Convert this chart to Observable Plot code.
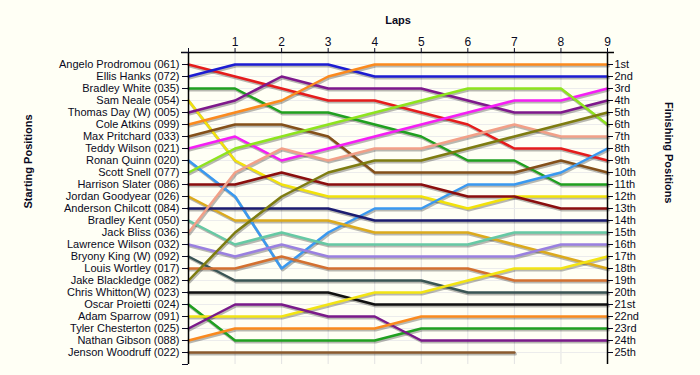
<!DOCTYPE html>
<html><head><meta charset="utf-8">
<script src="https://cdn.jsdelivr.net/npm/d3@7"></script>
<script src="https://cdn.jsdelivr.net/npm/@observablehq/plot@0.6"></script>
<style>
html,body{margin:0;padding:0;background:#fffff5;}
</style></head><body><div id="chart"></div>
<script>
const laps = [0, 1, 2, 3, 4, 5, 6, 7, 8, 9];
const drivers = [
  "Angelo Prodromou (061)", "Ellis Hanks (072)", "Bradley White (035)", "Sam Neale (054)",
  "Thomas Day (W) (005)", "Cole Atkins (099)", "Max Pritchard (033)", "Teddy Wilson (021)",
  "Ronan Quinn (020)", "Scott Snell (077)", "Harrison Slater (086)", "Jordan Goodyear (026)",
  "Anderson Chilcott (084)", "Bradley Kent (050)", "Jack Bliss (036)", "Lawrence Wilson (032)",
  "Bryony King (W) (092)", "Louis Wortley (017)", "Jake Blackledge (082)", "Chris Whitton(W) (023)",
  "Oscar Proietti (024)", "Adam Sparrow (091)", "Tyler Chesterton (025)", "Nathan Gibson (088)",
  "Jenson Woodruff (022)"
];
const colors = [
  "#e51c1c", "#1c1cd2", "#20a020", "#f2e20a", "#7e188c", "#fb8a1e", "#84501a", "#f51ef5",
  "#3a99f0", "#8ee41e", "#8b0e0e", "#dcaa1c", "#1c1c70", "#66c9a4", "#f2a088", "#9a80e0",
  "#3a5555", "#d37030", "#7e7c10", "#111111", "#20a020", "#f2e414", "#7a1a8a", "#fa8a1e",
  "#8a5a2e"
];
const finishLabels = [
  "1st", "2nd", "3rd", "4th", "5th", "6th", "7th", "8th", "9th", "10th", "11th", "12th", "13th",
  "14th", "15th", "16th", "17th", "18th", "19th", "20th", "21st", "22nd", "23rd", "24th", "25th"
];

// positions per lap (lap 0 .. lap 9)
const angelo    = [1, 2, 3, 4, 4, 5, 6, 8, 8, 9];
const ellis     = [2, 1, 1, 1, 2, 2, 2, 2, 2, 2];
const bradleyW  = [3, 3, 5, 5, 6, 7, 9, 9, 11, 11];
const sam       = [4, 9, 11, 12, 12, 12, 13, 12, 12, 12];
const thomas    = [5, 4, 2, 3, 3, 3, 4, 5, 5, 4];
const cole      = [6, 5, 4, 2, 1, 1, 1, 1, 1, 1];
const max       = [7, 6, 6, 7, 10, 10, 10, 10, 9, 10];
const teddy     = [8, 7, 9, 8, 7, 6, 5, 4, 4, 3];
const ronan     = [9, 12, 18, 15, 13, 13, 11, 11, 10, 8];
const scott     = [10, 8, 7, 6, 5, 4, 3, 3, 3, 6];
const harrison  = [11, 11, 10, 11, 11, 11, 12, 12, 13, 13];
const jordan    = [12, 14, 14, 14, 15, 15, 15, 16, 17, 18];
const anderson  = [13, 13, 13, 13, 14, 14, 14, 14, 14, 14];
const bradleyK  = [14, 16, 15, 16, 16, 16, 16, 15, 15, 15];
const jack      = [15, 10, 8, 9, 8, 8, 7, 6, 7, 7];
const lawrence  = [16, 17, 16, 17, 17, 17, 17, 17, 16, 16];
const bryony    = [17, 19, 19, 19, 19, 19, 20, 20, 20, 20];
const louis     = [18, 18, 17, 18, 18, 18, 18, 19, 19, 19];
const jake      = [19, 15, 12, 10, 9, 9, 8, 7, 6, 5];
const chris     = [20, 20, 20, 20, 21, 21, 21, 21, 21, 21];
const oscar     = [21, 24, 24, 24, 24, 23, 23, 23, 23, 23];
const adam      = [22, 22, 22, 21, 20, 20, 19, 18, 18, 17];
const tyler     = [23, 21, 21, 22, 22, 24, 24, 24, 24, 24];
const nathan    = [24, 23, 23, 23, 23, 22, 22, 22, 22, 22];
const jenson    = [25, 25, 25, 25, 25, 25, 25, 25];

const series = [angelo, ellis, bradleyW, sam, thomas, cole, max, teddy, ronan, scott, harrison,
  jordan, anderson, bradleyK, jack, lawrence, bryony, louis, jake, chris, oscar, adam, tyler,
  nathan, jenson];

const rows = [];
series.forEach((s, i) => s.forEach((p, j) => rows.push({driver: drivers[i], lap: laps[j], pos: p})));

const positions = d3.range(1, drivers.length + 1);
const yTicks = d3.range(0, drivers.length + 2);

const chart = Plot.plot({
  width: 700, height: 375,
  marginLeft: 188, marginRight: 93, marginTop: 52, marginBottom: 11,
  style: {background: "#fffff5", fontFamily: "'Liberation Sans', Arial, sans-serif", fontSize: "11px", color: "#0a0a22", overflow: "visible"},
  x: {domain: [0, 9], axis: null},
  y: {domain: [0, drivers.length + 1], reverse: true, axis: null},
  color: {domain: drivers, range: colors},
  marks: [
    Plot.gridX(laps.slice(1, -1), {stroke: "#e2e2e2", strokeOpacity: 1}),
    Plot.gridY(positions, {stroke: "#ececec", strokeOpacity: 1}),
    Plot.line(rows, {x: "lap", y: "pos", z: "driver", stroke: "#000", strokeOpacity: 0.28, strokeWidth: 3, dx: 1, dy: 1.5}),
    Plot.line(rows, {x: "lap", y: "pos", z: "driver", stroke: "driver", strokeWidth: 2.5}),
    Plot.ruleX([0, 9], {y1: 0, y2: drivers.length + 1, stroke: "#000", strokeWidth: 1.5}),
    Plot.ruleY([0], {x1: -0.15, x2: 9.15, stroke: "#000", strokeWidth: 1.5}),
    Plot.axisX(laps, {anchor: "top", tickSize: 5, tickPadding: 2, tickFormat: d => d === 0 ? "" : d, label: null, fontSize: 12}),
    Plot.axisY(yTicks, {anchor: "left", tickSize: 6, tickPadding: 3, tickFormat: d => drivers[d - 1] ?? "", label: null}),
    Plot.axisY(positions, {anchor: "right", tickSize: 5, tickPadding: 2, tickFormat: d => finishLabels[d - 1], label: null}),
    Plot.text(["Laps"], {text: d => d, frameAnchor: "top", dy: -36, fontWeight: "bold", fontSize: 11}),
    Plot.text(["Starting Positions"], {text: d => d, frameAnchor: "left", dx: -160, rotate: -90, fontWeight: "bold", fontSize: 11}),
    Plot.text(["Finishing Positions"], {text: d => d, frameAnchor: "right", dx: 61, dy: -5, rotate: 90, fontWeight: "bold", fontSize: 11})
  ]
});
document.getElementById("chart").appendChild(chart);
</script>
</body></html>
